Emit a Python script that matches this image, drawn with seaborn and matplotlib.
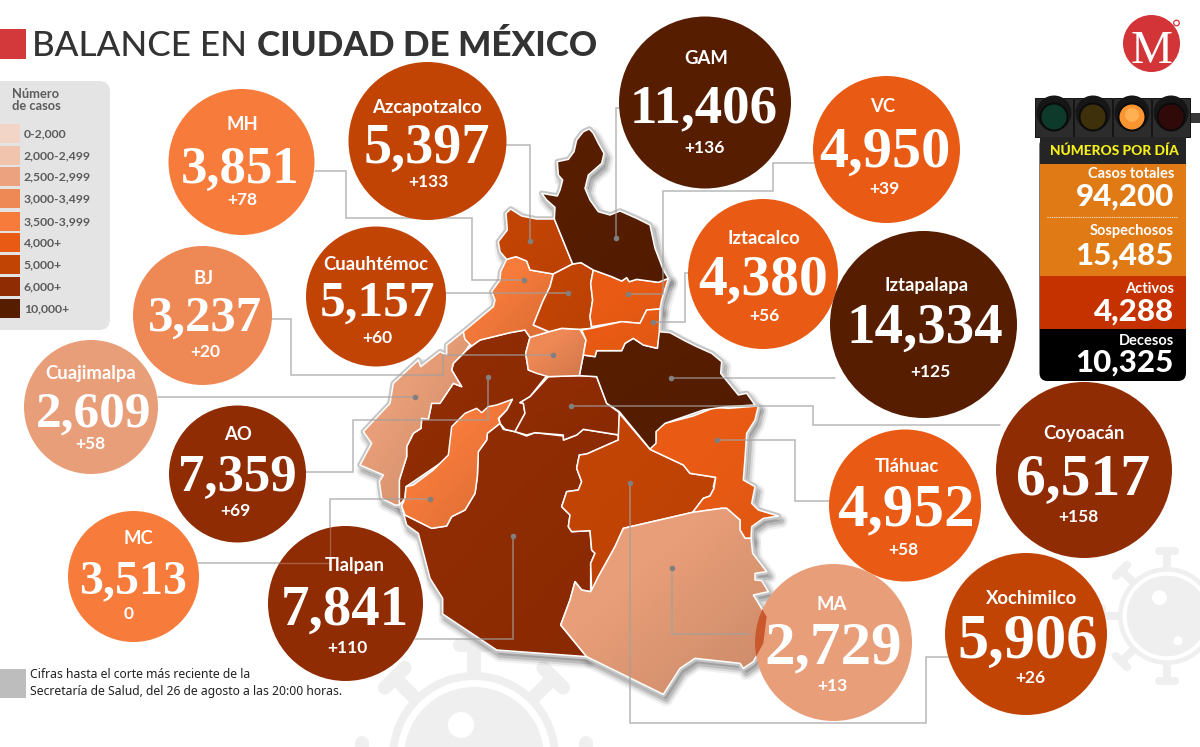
import numpy as np
import pandas as pd
import matplotlib.pyplot as plt
from matplotlib.patches import Circle, Rectangle, FancyBboxPatch, Polygon
import seaborn as sns

# Alcaldias, accumulated cases and new cases
names = ["MH", "Azcapotzalco", "GAM", "VC", "BJ", "Cuauhtémoc", "Iztacalco", "Iztapalapa",
         "Cuajimalpa", "AO", "MC", "Tlalpan", "Tláhuac", "Coyoacán", "Xochimilco", "MA"]
cases = [3851, 5397, 11406, 4950, 3237, 5157, 4380, 14334,
         2609, 7359, 3513, 7841, 4952, 6517, 5906, 2729]
new_cases = [78, 133, 136, 39, 20, 60, 56, 125, 58, 69, 0, 110, 58, 158, 26, 13]

# Legend
legend_labels = ["0-2,000", "2,000-2,499", "2,500-2,999", "3,000-3,499", "3,500-3,999",
                 "4,000+", "5,000+", "6,000+", "10,000+"]
legend_colors = ["#f3d5c8", "#f1c4ae", "#eca27f", "#ee8855", "#f77b3b",
                 "#e95b14", "#c24405", "#8f2c03", "#561d00"]

# Side panel
panel_labels = ["Casos totales", "Sospechosos", "Activos", "Decesos"]
panel_values = [94200, 15485, 4288, 10325]

# Layout of the bubbles, in pixels
bubble_x = [241.5, 427.5, 705, 886.5, 202.5, 376, 763, 923.5, 91, 237.5, 133.5, 345.5, 905, 1084, 1026, 833.5]
bubble_y = [162, 141, 102.5, 149.5, 315.5, 296.5, 274, 324.5, 407, 474, 576.5, 603.5, 505.5, 470, 634, 642.5]
bubble_r = [73, 79, 86, 73.5, 69.5, 70, 75, 93.5, 67, 68.5, 65.5, 77.5, 76, 88, 81, 78.5]
bubble_c = ["#f77b3b", "#c24405", "#561d00", "#e95b14", "#ee8855", "#c24405", "#e95b14", "#561d00",
            "#e89e78", "#8f2c03", "#f77b3b", "#8f2c03", "#e95b14", "#8f2c03", "#c24405", "#e89e78"]
name_x = [242, 427, 706, 883, 204, 376, 764, 927, 91, 238, 138, 355, 907, 1084, 1032, 832]
name_y = [124, 107, 59, 106, 278, 264, 239, 285, 373, 434, 539, 565, 467, 434, 598, 605]
value_x = [240, 426.5, 704, 885, 205, 377, 763.5, 924.5, 93.5, 237.5, 133, 345, 905.5, 1083.5, 1027.5, 833]
value_y = [165, 144, 103.5, 146.5, 313, 298.5, 275, 323.5, 409, 473, 577.5, 605.5, 504.5, 473.5, 637, 643]
delta_x = [242, 428, 704, 884, 205, 377, 764, 930, 90, 235, 129, 347, 903, 1078, 1030, 832]
delta_y = [200, 182, 148, 189, 352, 338, 316, 372, 444, 511, 614, 648, 550, 517, 678, 686]
value_fs = [38, 40.5, 39.5, 42, 36.5, 37, 41.5, 41, 37, 38, 34.5, 41, 44, 43, 45, 44]


def z3(pts):
    # outline points
    return [(350 + x / 3, 110 + y / 3) for x, y in pts]


def z4(pts):
    # outline points
    return [(350 + x / 3, 390 + y / 3) for x, y in pts]


map_parts = [
    ("#8f2c03", z4([(155, 348), (165, 375), (245, 415), (290, 408), (305, 380), (345, 360), (375, 310), (382, 260),
                    (385, 185), (410, 150), (412, 130), (450, 100), (460, 118), (495, 125), (530, 138), (555, 128),
                    (640, 138), (642, 150), (680, 135), (700, 118), (805, 135), (805, 150), (710, 192), (688, 195),
                    (680, 235), (695, 275), (685, 300), (650, 305), (635, 350), (660, 375), (655, 410), (665, 425),
                    (720, 422), (725, 480), (735, 490), (722, 520), (722, 605), (695, 600), (675, 575), (660, 630),
                    (632, 705), (710, 800), (440, 780), (278, 672), (278, 625), (240, 565), (205, 430), (170, 405)])),
    ("#8f2c03", z3([(390, 690), (480, 668), (525, 660), (540, 682), (527, 730), (535, 780), (590, 797), (540, 860),
                    (510, 878), (520, 880), (525, 910), (495, 965), (465, 958), (450, 940), (447, 925), (470, 900),
                    (487, 868), (400, 950), (300, 1040), (168, 1130), (165, 1165), (148, 1185), (148, 1110),
                    (170, 1040), (170, 1010), (190, 970), (213, 955), (215, 925), (235, 928), (245, 880), (270, 880),
                    (310, 820), (335, 830), (305, 780), (310, 760), (345, 725), (365, 708)])),
    ("#f77b3b", z4([(487, 28), (440, 45), (415, 50), (395, 68), (380, 55), (345, 70), (305, 110), (295, 195),
                    (250, 240), (190, 285), (168, 290), (165, 325), (155, 348), (165, 375), (245, 415), (290, 408),
                    (305, 380), (345, 360), (375, 310), (382, 260), (385, 185), (410, 150), (412, 130), (450, 100),
                    (445, 85), (470, 60)])),
    ("#e89e78", z3([(340, 665), (345, 688), (365, 695), (345, 725), (310, 760), (305, 780), (335, 830), (310, 820),
                    (270, 880), (245, 880), (235, 928), (215, 925), (213, 955), (190, 970), (170, 1010), (170, 1040),
                    (148, 1110), (148, 1185), (135, 1185), (95, 1165), (88, 1115), (100, 1095), (30, 1065), (65, 1000),
                    (40, 965), (120, 880), (130, 820), (205, 750), (212, 770), (270, 725), (290, 735), (290, 705)])),
    ("#8f2c03", z3([(595, 800), (688, 797), (740, 800), (770, 880), (808, 908), (808, 975), (700, 958), (680, 975),
                    (640, 990), (640, 975), (555, 968), (530, 975), (495, 965), (525, 910), (520, 880), (510, 878),
                    (540, 860)])),
    ("#c24405", z4([(808, 70), (900, 178), (1000, 225), (1020, 250), (1097, 262), (1090, 290), (1092, 295), (1080, 318),
                    (1060, 325), (1028, 367), (820, 415), (795, 470), (745, 560), (725, 605), (722, 520), (735, 490),
                    (725, 480), (720, 422), (665, 425), (655, 410), (660, 375), (635, 350), (650, 305), (685, 300),
                    (695, 275), (680, 235), (688, 195), (710, 192), (805, 150), (805, 135)])),
    ("#e95b14", z4([(1095, 52), (1135, 55), (1225, 48), (1215, 90), (1190, 130), (1185, 205), (1180, 270), (1215, 290),
                    (1205, 340), (1225, 360), (1285, 378), (1240, 385), (1205, 410), (1203, 445), (1185, 445),
                    (1170, 420), (1170, 390), (1130, 355), (1115, 355), (1028, 367), (1060, 325), (1080, 318),
                    (1092, 295), (1097, 262), (1020, 250), (1000, 225), (900, 178), (918, 150), (918, 120), (945, 100),
                    (1030, 78)])),
    ("#e89e78", z4([(820, 415), (1028, 367), (1115, 355), (1130, 355), (1170, 390), (1170, 420), (1185, 445),
                    (1203, 445), (1208, 490), (1250, 545), (1215, 550), (1215, 570), (1235, 572), (1255, 605),
                    (1210, 615), (1250, 680), (1240, 760), (1210, 815), (1180, 835), (1170, 820), (1035, 805),
                    (990, 835), (940, 913), (710, 800), (632, 705), (660, 630), (675, 575), (695, 600), (722, 605),
                    (745, 560), (795, 470)])),
    ("#561d00", z3([(925, 665), (960, 668), (1000, 690), (1040, 710), (1085, 730), (1115, 755), (1112, 790), (1165, 855),
                    (1190, 850), (1215, 885), (1130, 890), (1060, 900), (945, 940), (918, 965), (918, 1000), (900, 1017),
                    (808, 905), (770, 880), (740, 800), (688, 797), (700, 735), (735, 740), (740, 722), (815, 722),
                    (825, 700), (850, 685), (880, 705), (922, 715)])),
    ("#ee8855", z3([(597, 665), (635, 655), (690, 658), (708, 690), (700, 735), (688, 797), (595, 800), (560, 790),
                    (535, 780), (527, 730), (540, 682)])),
    ("#f77b3b", z3([(470, 448), (498, 440), (530, 453), (540, 480), (610, 492), (600, 530), (578, 575), (550, 645),
                    (597, 665), (540, 682), (525, 660), (480, 668), (390, 690), (365, 708), (345, 688), (340, 665),
                    (430, 590), (435, 570), (425, 545), (450, 510), (452, 485)])),
    ("#c24405", z3([(482, 297), (468, 310), (472, 360), (445, 395), (450, 425), (470, 448), (498, 440), (530, 453),
                    (540, 480), (610, 492), (668, 462), (613, 327), (560, 327), (515, 318)])),
    ("#c24405", z3([(610, 492), (668, 462), (693, 458), (730, 480), (722, 520), (728, 570), (720, 620), (725, 655),
                    (690, 658), (635, 655), (597, 665), (550, 645), (578, 575), (600, 530)])),
    ("#e95b14", z3([(730, 480), (785, 500), (815, 513), (830, 503), (838, 515), (860, 508), (925, 517), (955, 505),
                    (935, 570), (930, 597), (890, 600), (870, 640), (815, 635), (725, 650), (720, 620), (728, 570),
                    (722, 520)])),
    ("#e95b14", z3([(890, 600), (930, 597), (928, 665), (922, 715), (880, 705), (850, 685), (825, 700), (815, 722),
                    (740, 722), (735, 740), (700, 735), (708, 690), (695, 660), (725, 655), (815, 635), (870, 640)])),
    ("#561d00", z3([(718, 57), (700, 65), (680, 90), (672, 125), (655, 148), (622, 155), (625, 195), (638, 210),
                    (630, 240), (622, 258), (575, 250), (590, 270), (615, 292), (613, 327), (668, 462), (693, 458),
                    (730, 480), (785, 500), (815, 513), (830, 503), (838, 515), (860, 508), (925, 517), (955, 505),
                    (940, 480), (915, 415), (900, 345), (860, 325), (810, 303), (780, 315), (745, 305), (720, 270),
                    (705, 235), (715, 195), (755, 160), (762, 130), (745, 100), (730, 70)])),
]

# Leader lines from the bubbles to the map, each one ends on its dot
leaders = [
    [(315, 171), (346, 171), (346, 217.5), (472, 217.5), (472, 280), (524, 280)],
    [(506, 145), (530, 145), (530, 241)],
    [(620, 108), (616, 108), (616, 238)],
    [(817, 162.5), (773, 162.5), (773, 191), (663, 191), (663, 294), (628, 294)],
    [(272, 319), (291, 319), (291, 374.5), (443, 374.5), (443, 355), (553, 355)],
    [(446, 292.5), (568, 292.5)],
    [(690, 272.5), (685, 272.5), (685, 321.5), (653, 321.5)],
    [(835, 377.5), (671, 377.5)],
    [(158, 397), (415, 397)],
    [(306, 472), (353, 472), (353, 419.5), (488, 419.5), (488, 377)],
    [(198, 563), (329.5, 563), (329.5, 499), (430, 499)],
    [(415, 638.5), (513, 638.5), (513, 536)],
    [(829, 500.5), (795, 500.5), (795, 440), (717, 440)],
    [(1000, 425), (812.5, 425), (812.5, 405.5), (571, 405.5)],
    [(960, 657), (925.5, 657), (925.5, 723), (630, 723), (630, 483)],
    [(749, 633.5), (672, 633.5), (672, 568)],
]

sns.set_theme(style="white")
plt.rcParams['font.family'] = ['Lato', 'DejaVu Sans']

fig = plt.figure(figsize=(12, 7.47), dpi=100)
ax = fig.add_axes([0, 0, 1, 1])
ax.set_xlim(0, 1200)
ax.set_ylim(747, 0)
ax.axis("off")

# Virus watermarks behind everything
virus_grey = "#efefef"
for cx, cy, s in [(474, 757, 1.0), (1167, 616, 0.576)]:
    for ang in range(0, 360, 45):
        a = np.radians(ang)
        ux, uy = np.sin(a), -np.cos(a)
        ax.plot([cx + ux * 80 * s, cx + ux * 112 * s], [cy + uy * 80 * s, cy + uy * 112 * s],
                color=virus_grey, lw=10 * s, solid_capstyle="butt", zorder=1)
        ax.plot([cx + ux * 112 * s + uy * 14 * s, cx + ux * 112 * s - uy * 14 * s],
                [cy + uy * 112 * s - ux * 14 * s, cy + uy * 112 * s + ux * 14 * s],
                color=virus_grey, lw=10 * s, solid_capstyle="round", zorder=1)
    ax.add_patch(Circle((cx, cy), 85 * s, fc=virus_grey, ec="none", zorder=1))
    ax.add_patch(Circle((cx, cy), 77 * s, fc="white", ec="none", zorder=1))
    ax.add_patch(Circle((cx, cy), 70 * s, fc=virus_grey, ec="none", zorder=1))
    ax.add_patch(Circle((cx - 13 * s, cy - 32 * s), 13 * s, fc="white", ec="none", zorder=1))
    ax.add_patch(Circle((cx + 19 * s, cy + 43 * s), 8 * s, fc="white", ec="none", zorder=1))

# Soft shadow around the map
for lw, alpha in [(10, 0.10), (7, 0.18), (4, 0.30)]:
    for color, pts in map_parts:
        shifted = [(x + 3, y + 5) for x, y in pts]
        ax.add_patch(Polygon(shifted, closed=True, fc="#8c8c8c", ec="#777777", lw=lw, alpha=alpha,
                             joinstyle="round", zorder=2))
for color, pts in map_parts:
    ax.add_patch(Polygon(pts, closed=True, fc=color, ec="#c6c6c6", lw=4, joinstyle="round", zorder=3))

# Regions, darkened slightly towards the lower right
light_fills = ["#e89e78", "#ee8855", "#f77b3b"]
ramp = np.zeros((64, 64, 4))
ramp[..., 3] = np.clip(np.add.outer(np.arange(64), np.arange(64)) / 126 - 0.35, 0, 1)
for i, (color, pts) in enumerate(map_parts):
    z = 4 + i * 0.02
    ax.add_patch(Polygon(pts, closed=True, fc=color, ec="none", zorder=z))
    shade = ramp.copy()
    shade[..., 3] *= 0.2 if color in light_fills else 0.07
    xs, ys = zip(*pts)
    im = ax.imshow(shade, extent=(min(xs), max(xs), max(ys), min(ys)), aspect="auto", zorder=z + 0.005)
    im.set_clip_path(Polygon(pts, closed=True, transform=ax.transData))
    ax.add_patch(Polygon(pts, closed=True, fc="none", ec="white", lw=1.1, joinstyle="round", zorder=z + 0.01))
ax.set_xlim(0, 1200)
ax.set_ylim(747, 0)

for path in leaders:
    xs, ys = zip(*path)
    ax.plot(xs, ys, color="#a0a0a0", lw=1.1, alpha=0.75, solid_joinstyle="miter", zorder=5)

ends = pd.DataFrame([path[-1] for path in leaders], columns=["x", "y"])
sns.scatterplot(data=ends, x="x", y="y", color="#808080", s=16, linewidth=0, legend=False, ax=ax, zorder=6)

# The bubbles
df = pd.DataFrame({"name": names, "cases": cases, "new": new_cases, "x": bubble_x, "y": bubble_y,
                   "r": bubble_r, "color": bubble_c})
sns.scatterplot(data=df, x="x", y="y", hue="name", palette=dict(zip(names, bubble_c)),
                size="name", sizes={n: (2 * r * 0.72) ** 2 for n, r in zip(names, bubble_r)},
                linewidth=0, legend=False, ax=ax, zorder=7)
ax.set_xlabel("")
ax.set_ylabel("")

# The MC line stays faintly visible across Tlalpan
ax.plot([279, 329.5, 329.5], [563, 563, 527], color="#d8d8d8", lw=1, alpha=0.3, zorder=7.2)

# MA bubble sits over the map, overlap reads darker
ma_clip = Circle((bubble_x[15], bubble_y[15]), bubble_r[15], transform=ax.transData)
for color, pts in map_parts:
    if color == "#e89e78" and pts[0][0] > 500:
        over = Polygon(pts, closed=True, fc="#c9582f", ec="none", zorder=7.5)
        ax.add_patch(over)
        over.set_clip_path(ma_clip)

for i, name in enumerate(names):
    ax.text(name_x[i], name_y[i], name, color="white", fontsize=13.3, fontweight="bold",
            ha="center", va="center", zorder=8)
    digit_h = value_fs[i] * 100 / 72 * 0.676
    ax.text(value_x[i], value_y[i] + digit_h / 2, f"{cases[i]:,}", color="white", fontsize=value_fs[i],
            fontweight="bold", family=["Liberation Serif"], ha="center", va="baseline", zorder=8)
    delta = f"+{new_cases[i]}" if new_cases[i] else "0"
    ax.text(delta_x[i], delta_y[i], delta, color="white", fontsize=12.5, fontweight="bold",
            ha="center", va="center", zorder=8)

# Title
ax.add_patch(Rectangle((0, 29), 26, 30, fc="#d3383a", ec="none", zorder=9))
ax.text(32, 56, "BALANCE EN", color="#333333", fontsize=25.2, fontweight="medium", va="baseline", ha="left", zorder=9)
ax.text(257, 56, "CIUDAD DE MÉXICO", color="#333333", fontsize=25.2, fontweight="black", va="baseline", ha="left", zorder=9)

# Colour legend
ax.add_patch(FancyBboxPatch((-12, 81), 122, 249, boxstyle="round,pad=0,rounding_size=11",
                            fc="#e4e4e4", ec="none", zorder=9))
ax.text(12, 100, "Número\nde casos", color="#5c5c5c", fontsize=9.3, fontweight="bold", va="center",
        linespacing=1.05, zorder=10)
swatch_top = [124, 146, 167, 189, 212, 233, 255, 277, 299]
for top, color, label in zip(swatch_top, legend_colors, legend_labels):
    ax.add_patch(Rectangle((0, top), 20, 19, fc=color, ec="none", zorder=10))
    ax.text(24, top + 9.5, label, color="#5c5c5c", fontsize=8.8, fontweight="bold", va="center", zorder=10)

# Milenio logo
ax.add_patch(Circle((1151.5, 43.5), 28.5, fc="#d23438", ec="none", zorder=9))
ax.text(1151.5, 63, "M", color="white", fontsize=34, family=["Liberation Serif"], ha="center", va="baseline", zorder=10)
ax.add_patch(Circle((1176.5, 23), 2.8, fc="white", ec="#d23438", lw=0.9, zorder=10))

# Traffic light
ax.add_patch(Rectangle((1189, 113), 11, 10, fc="#383838", ec="none", zorder=9))
lamp_x = [1054, 1093, 1132, 1171]
lamp_c = ["#0d3a2a", "#3f300c", "#fb9431", "#300a08"]
for x, color in zip(lamp_x, lamp_c):
    ax.add_patch(Rectangle((x - 19, 98), 38, 39, fc="#2c2c2c", ec="#111111", lw=0.7, zorder=9))
    ax.add_patch(Circle((x, 113), 17.5, fc="#161616", ec="none", zorder=10))
    ax.add_patch(Circle((x, 117), 14.5, fc="#0b0b0b", ec="none", zorder=10))
    ax.add_patch(Circle((x, 117), 12.5, fc=color, ec="none", zorder=10))
ax.add_patch(Circle((1132, 115), 7, fc="#ffb052", ec="none", zorder=10))

# Panel with daily numbers
ax.add_patch(FancyBboxPatch((1039.5, 137), 146.5, 244, boxstyle="round,pad=0,rounding_size=8",
                            fc="black", ec="none", zorder=9))
ax.add_patch(Rectangle((1039.5, 137), 146.5, 26.5, fc="#252525", ec="none", zorder=9))
ax.add_patch(Rectangle((1039.5, 163.5), 146.5, 112.5, fc="#e07a14", ec="none", zorder=9))
ax.add_patch(Rectangle((1039.5, 276), 146.5, 52.5, fc="#c63100", ec="none", zorder=9))
ax.text(1178.5, 151, "NÚMEROS POR DÍA", color="#f5ef1b", fontsize=9.9, fontweight="black",
        ha="right", va="center", zorder=10)
ax.plot([1047, 1178], [216.7, 216.7], color="white", lw=0.8, ls=(0, (1, 1)), alpha=0.8, zorder=10)
label_y = [174, 231, 289, 341]
number_y = [197, 256, 312, 363]
for lab, val, ly, ny in zip(panel_labels, panel_values, label_y, number_y):
    ax.text(1174, ly, lab, color="white", fontsize=10.5, fontweight="bold", ha="right", va="center", zorder=10)
    ax.text(1174, ny, f"{val:,}", color="white", fontsize=22.5, fontweight="black", ha="right", va="center", zorder=10)

# Source note
ax.add_patch(Rectangle((0, 669), 26, 29, fc="#bdbdbd", ec="none", zorder=9))
ax.text(30, 674, "Cifras hasta el corte más reciente de la", color="#222222", fontsize=8.75,
        family=["Noto Sans"], va="center", zorder=10)
ax.text(30, 692, "Secretaría de Salud, del 26 de agosto a las 20:00 horas.", color="#222222", fontsize=8.75,
        family=["Noto Sans"], va="center", zorder=10)

fig.savefig("out.png", dpi=100)
